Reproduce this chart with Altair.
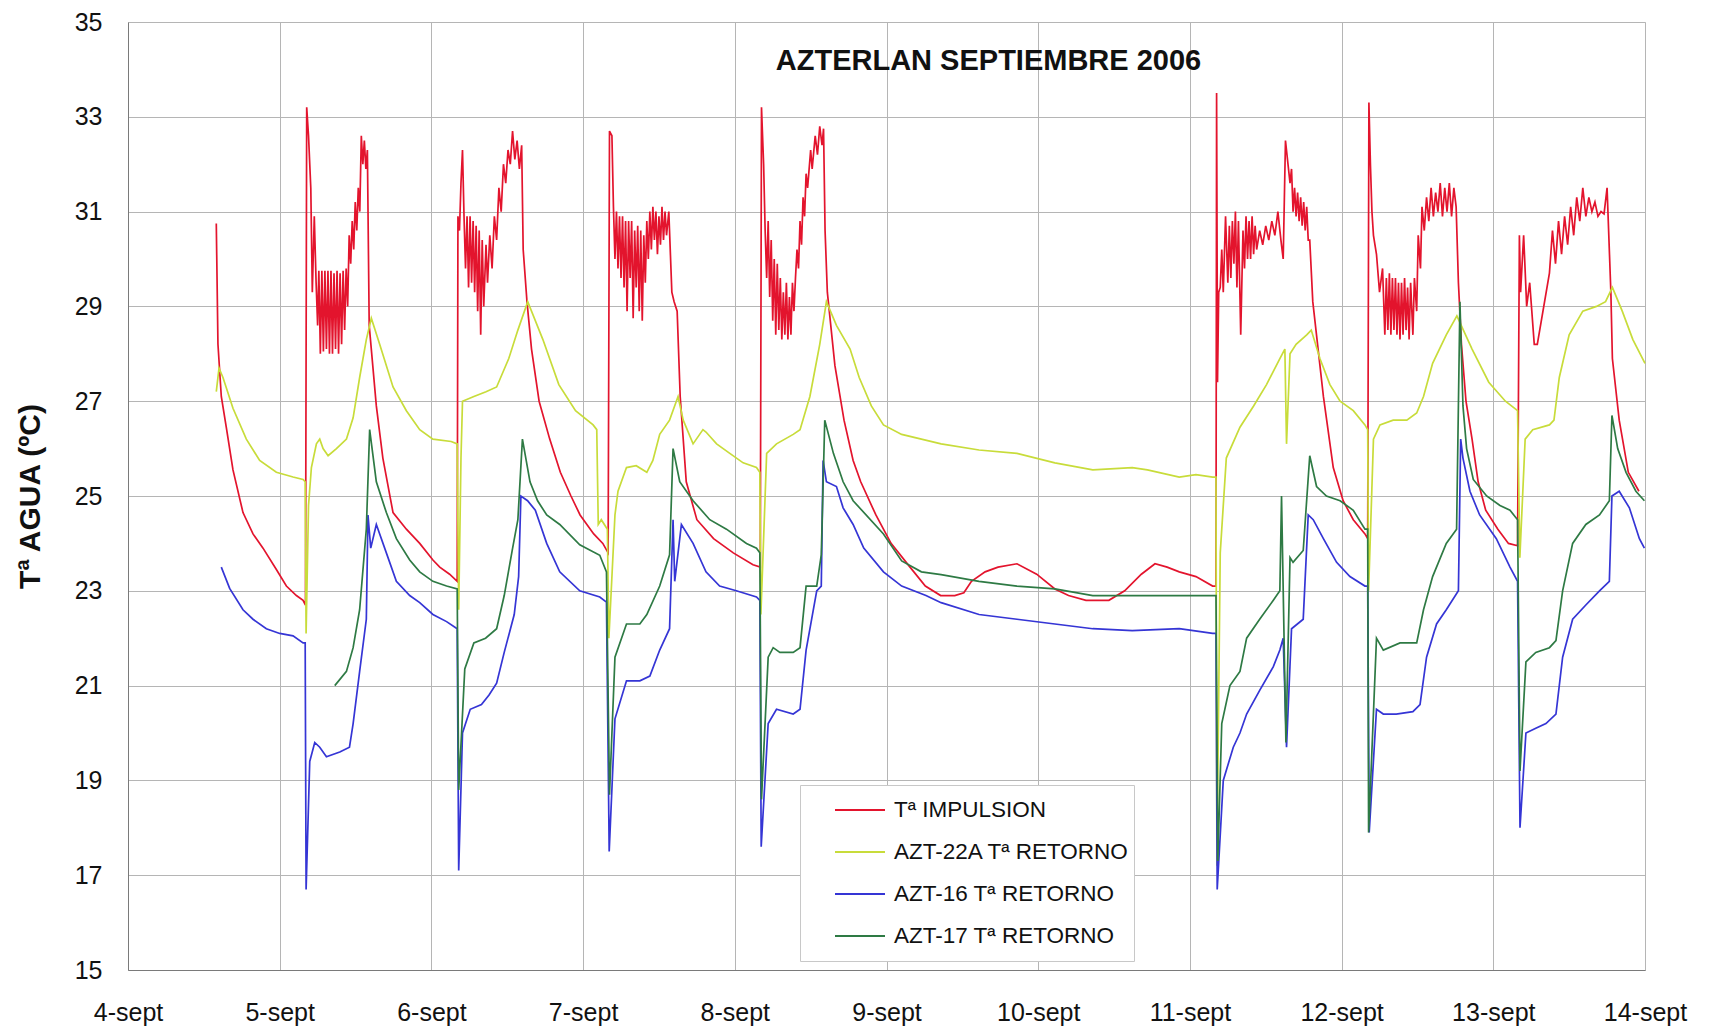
import altair as alt
import pandas as pd

SERIES = ["Tª IMPULSION", "AZT-22A Tª RETORNO", "AZT-16 Tª RETORNO", "AZT-17 Tª RETORNO"]
COLORS = ["#e3142d", "#c8dc3a", "#3535d5", "#2e7a44"]
X_TICKS = list(range(4, 15))
Y_TICKS = list(range(15, 36, 2))
TITLE = "AZTERLAN SEPTIEMBRE 2006"
Y_TITLE = "Tª AGUA (ºC)"

imp_day = [4.582, 4.593, 4.615, 4.648, 4.692, 4.758, 4.824, 4.890, 4.978, 5.044, 5.110, 5.154, 5.170,
           5.178, 5.190, 5.205, 5.215, 5.228, 5.240, 5.250, 5.258, 5.268, 5.278, 5.288, 5.298, 5.308,
           5.318, 5.328, 5.338, 5.348, 5.358, 5.368, 5.378, 5.388, 5.398, 5.408, 5.418, 5.428, 5.438,
           5.448, 5.458, 5.468, 5.478, 5.488, 5.498, 5.508, 5.518, 5.528, 5.538, 5.548, 5.558, 5.568,
           5.578, 5.590, 5.637, 5.680, 5.747, 5.835, 5.923, 6.010, 6.055, 6.120, 6.170,
           6.175, 6.185, 6.195, 6.205, 6.215, 6.225, 6.235, 6.245, 6.255, 6.265, 6.275, 6.285, 6.295,
           6.305, 6.315, 6.325, 6.335, 6.345, 6.360, 6.370, 6.385, 6.400, 6.415, 6.430, 6.445, 6.460,
           6.475, 6.490, 6.505, 6.520, 6.535, 6.550, 6.565, 6.580, 6.595, 6.605, 6.630, 6.660, 6.710,
           6.780, 6.850, 6.920, 6.980, 7.070, 7.130, 7.165,
           7.174, 7.190, 7.200, 7.210, 7.220, 7.230, 7.240, 7.250, 7.260, 7.270, 7.280, 7.290, 7.300,
           7.310, 7.320, 7.330, 7.340, 7.350, 7.360, 7.370, 7.380, 7.390, 7.400, 7.410, 7.420, 7.430,
           7.440, 7.450, 7.460, 7.470, 7.480, 7.490, 7.500, 7.510, 7.520, 7.530, 7.540, 7.550, 7.565,
           7.585, 7.600, 7.620, 7.640, 7.680, 7.750, 7.860, 7.990, 8.120, 8.168,
           8.176, 8.190, 8.200, 8.210, 8.220, 8.230, 8.240, 8.250, 8.260, 8.270, 8.280, 8.290, 8.300,
           8.310, 8.320, 8.330, 8.340, 8.350, 8.360, 8.370, 8.380, 8.390, 8.400, 8.410, 8.420, 8.430,
           8.440, 8.450, 8.460, 8.470, 8.480, 8.500, 8.510, 8.530, 8.545, 8.560, 8.575, 8.585, 8.595,
           8.610, 8.660, 8.720, 8.780, 8.830, 8.930, 9.030, 9.155, 9.256, 9.357, 9.450, 9.510, 9.560,
           9.650, 9.735, 9.860, 9.990, 10.110, 10.200, 10.315, 10.466, 10.570, 10.680, 10.770, 10.850,
           10.930, 11.040, 11.150, 11.172,
           11.176, 11.182, 11.190, 11.200, 11.210, 11.220, 11.235, 11.250, 11.260, 11.270, 11.280,
           11.290, 11.300, 11.310, 11.320, 11.335, 11.350, 11.360, 11.370, 11.380, 11.390, 11.400,
           11.410, 11.420, 11.430, 11.440, 11.460, 11.480, 11.500, 11.520, 11.540, 11.560, 11.580,
           11.600, 11.615, 11.630, 11.640, 11.660, 11.670, 11.680, 11.690, 11.700, 11.710, 11.720,
           11.730, 11.740, 11.750, 11.760, 11.770, 11.780, 11.790, 11.810, 11.880, 11.945, 12.010,
           12.077, 12.154, 12.172,
           12.180, 12.190, 12.200, 12.210, 12.230, 12.250, 12.270, 12.285, 12.295, 12.305, 12.315,
           12.325, 12.335, 12.345, 12.355, 12.365, 12.375, 12.385, 12.395, 12.405, 12.415, 12.425,
           12.435, 12.445, 12.455, 12.470, 12.480, 12.495, 12.505, 12.520, 12.530, 12.545, 12.560,
           12.575, 12.590, 12.605, 12.620, 12.635, 12.650, 12.665, 12.680, 12.695, 12.710, 12.725,
           12.740, 12.755, 12.770, 12.790, 12.820, 12.860, 12.900, 12.950, 13.030, 13.100, 13.160,
           13.172, 13.180, 13.200, 13.220, 13.240, 13.270, 13.290, 13.370, 13.390, 13.410, 13.430,
           13.450, 13.470, 13.490, 13.510, 13.530, 13.550, 13.570, 13.590, 13.610, 13.630, 13.650,
           13.670, 13.690, 13.710, 13.730, 13.750, 13.775, 13.785, 13.830, 13.890, 13.960, 13.995]
imp_val = [30.75, 28.2, 27.1, 26.45, 25.55, 24.65, 24.2, 23.9, 23.45, 23.1, 22.9, 22.8, 22.7,
           33.2, 32.6, 31.5, 29.3, 30.9, 29.5, 28.6, 29.75, 28.0, 29.75, 28.05, 29.75, 28.1,
           29.75, 28.0, 29.75, 28.0, 29.7, 28.1, 29.75, 28.0, 29.7, 28.2, 29.75, 28.5, 29.8,
           29.0, 30.5, 29.9, 30.8, 30.2, 31.2, 30.6, 31.5, 31.0, 32.6, 32.0, 32.5, 31.9,
           32.3, 28.6, 26.9, 25.8, 24.65, 24.3, 24.0, 23.65, 23.5, 23.35, 23.2,
           30.9, 30.6, 31.6, 32.3, 30.9, 29.8, 30.9, 29.4, 30.9, 29.5, 30.8, 29.3, 30.7,
           28.9, 30.6, 28.4, 30.4, 29.0, 30.3, 29.5, 30.5, 29.8, 30.9, 30.4, 31.5, 31.0,
           32.0, 31.6, 32.3, 32.0, 32.7, 32.1, 32.5, 31.9, 32.4, 30.2, 29.1, 28.1, 27.0,
           26.2, 25.5, 25.0, 24.6, 24.2, 24.0, 23.8,
           32.7, 32.6, 31.1, 30.0, 31.0, 29.8, 30.9, 29.6, 30.9, 29.4, 30.8, 28.9, 30.8,
           29.6, 30.8, 28.75, 30.6, 29.4, 30.7, 28.9, 30.6, 28.7, 30.5, 29.5, 30.8, 30.0,
           31.0, 30.2, 31.1, 30.4, 31.0, 30.1, 30.9, 30.3, 31.1, 30.4, 31.0, 30.5, 31.0,
           29.3, 29.1, 28.9, 27.1, 25.3, 24.5, 24.1, 23.8, 23.55, 23.5,
           33.2, 32.0, 30.6, 29.6, 30.8, 29.2, 30.4, 28.7, 30.0, 28.4, 29.9, 28.5, 29.6,
           28.3, 29.3, 28.4, 29.5, 28.3, 29.2, 28.4, 29.5, 28.9, 29.6, 30.2, 29.8, 30.8,
           30.3, 31.3, 30.9, 31.8, 31.5, 32.3, 31.9, 32.6, 32.2, 32.8, 32.4, 32.75, 30.6,
           29.3, 27.75, 26.6, 25.75, 25.3, 24.6, 24.0, 23.5, 23.1, 22.9, 22.9, 22.96, 23.2,
           23.4, 23.5, 23.57, 23.35, 23.04, 22.9, 22.8, 22.8, 23.0, 23.35, 23.57, 23.5,
           23.4, 23.3, 23.1, 23.1,
           33.5, 27.4, 29.3, 29.4, 30.2, 29.3, 30.9, 29.5, 30.7, 29.6, 30.8,
           29.9, 31.0, 29.4, 30.8, 28.4, 30.6, 29.8, 30.9, 30.0, 30.8, 30.0,
           30.9, 30.1, 30.7, 30.2, 30.6, 30.3, 30.7, 30.4, 30.8, 30.5, 31.0,
           30.4, 30.0, 32.5, 32.2, 31.6, 31.9, 31.0, 31.5, 30.9, 31.4, 30.8,
           31.3, 30.7, 31.2, 30.6, 31.1, 30.4, 30.4, 29.1, 27.1, 25.6, 24.9,
           24.5, 24.2, 24.1,
           33.3, 32.0, 31.0, 30.5, 30.1, 29.3, 29.8, 28.4, 29.6, 28.5, 29.7,
           28.4, 29.6, 28.5, 29.6, 28.4, 29.5, 28.3, 29.5, 28.4, 29.6, 28.5,
           29.4, 28.3, 29.5, 28.4, 29.6, 28.9, 30.5, 29.8, 31.1, 30.6, 31.3,
           30.8, 31.5, 30.9, 31.4, 31.0, 31.6, 30.9, 31.5, 31.0, 31.6, 30.9,
           31.5, 31.1, 29.5, 28.2, 27.0, 26.2, 25.3, 24.7, 24.3, 24.0,
           23.95, 30.5, 29.3, 30.5, 29.0, 29.5, 28.2, 28.2, 29.7, 30.6, 29.9,
           30.8, 30.1, 30.9, 30.3, 31.1, 30.5, 31.3, 30.8, 31.5, 30.9, 31.3,
           31.0, 31.2, 30.9, 31.0, 30.95, 31.5, 29.3, 27.9, 26.6, 25.5, 25.1]

r22_day = [4.582, 4.600, 4.626, 4.692, 4.780, 4.868, 4.978, 5.088, 5.154, 5.168, 5.174, 5.190, 5.209,
           5.242, 5.264, 5.286, 5.319, 5.374, 5.440, 5.484, 5.527, 5.571, 5.604, 5.659, 5.747, 5.835,
           5.923, 6.010, 6.130, 6.170, 6.180, 6.195, 6.205, 6.280, 6.360, 6.430, 6.510, 6.570, 6.635,
           6.735, 6.840, 6.950, 7.066, 7.090, 7.100, 7.120, 7.160, 7.170, 7.210, 7.230, 7.286, 7.350,
           7.420, 7.460, 7.505, 7.570, 7.626, 7.660, 7.725, 7.790, 7.810, 7.880, 7.967, 8.055, 8.143,
           8.165, 8.172, 8.210, 8.275, 8.385, 8.430, 8.495, 8.560, 8.604, 8.670, 8.760, 8.820, 8.900,
           8.980, 9.100, 9.230, 9.360, 9.610, 9.860, 10.110, 10.360, 10.620, 10.720, 10.930, 11.040,
           11.150, 11.172, 11.178, 11.200, 11.240, 11.330, 11.420, 11.505, 11.593, 11.626, 11.637,
           11.660, 11.700, 11.770, 11.800, 11.857, 11.923, 11.990, 12.077, 12.154, 12.172, 12.178,
           12.210, 12.253, 12.340, 12.430, 12.495, 12.540, 12.600, 12.690, 12.760, 12.860, 12.970,
           13.080, 13.160, 13.175, 13.210, 13.260, 13.370, 13.400, 13.435, 13.500, 13.590, 13.680,
           13.740, 13.785, 13.850, 13.920, 14.000]
r22_val = [27.2, 27.7, 27.5, 26.85, 26.2, 25.75, 25.5, 25.4, 25.35, 25.3, 22.1, 24.8, 25.6,
           26.1, 26.2, 26.0, 25.85, 26.0, 26.2, 26.65, 27.5, 28.3, 28.75, 28.2, 27.3, 26.8,
           26.4, 26.2, 26.15, 26.1, 22.6, 25.8, 27.0, 27.1, 27.2, 27.3, 27.9, 28.5, 29.1,
           28.3, 27.35, 26.8, 26.5, 26.4, 24.4, 24.5, 24.3, 22.0, 24.6, 25.1, 25.6, 25.64,
           25.5, 25.75, 26.3, 26.6, 27.1, 26.6, 26.1, 26.4, 26.35, 26.1, 25.9, 25.7, 25.6,
           25.5, 22.5, 25.9, 26.1, 26.3, 26.4, 27.1, 28.2, 29.1, 28.6, 28.1, 27.5, 26.9,
           26.5, 26.3, 26.2, 26.1, 25.97, 25.9, 25.7, 25.55, 25.6, 25.55, 25.4, 25.45,
           25.4, 25.4, 17.2, 23.8, 25.8, 26.45, 26.9, 27.35, 27.9, 28.1, 26.1,
           28.0, 28.2, 28.4, 28.5, 27.9, 27.35, 27.0, 26.8, 26.5, 26.4, 23.0,
           26.2, 26.5, 26.6, 26.6, 26.75, 27.1, 27.8, 28.4, 28.8, 28.1, 27.4,
           27.0, 26.8, 23.7, 26.2, 26.4, 26.5, 26.6, 27.5, 28.4, 28.9, 29.0,
           29.1, 29.4, 28.9, 28.3, 27.8]

r16_day = [4.615, 4.670, 4.758, 4.824, 4.912, 5.000, 5.088, 5.154, 5.168, 5.174, 5.198, 5.231, 5.264,
           5.308, 5.396, 5.460, 5.484, 5.527, 5.571, 5.582, 5.600, 5.637, 5.703, 5.769, 5.857, 5.923,
           6.010, 6.100, 6.170, 6.180, 6.205, 6.256, 6.330, 6.380, 6.430, 6.480, 6.546, 6.575, 6.590,
           6.634, 6.685, 6.760, 6.846, 6.978, 7.110, 7.154, 7.172, 7.210, 7.286, 7.374, 7.440, 7.505,
           7.570, 7.593, 7.604, 7.648, 7.725, 7.810, 7.900, 8.010, 8.143, 8.165, 8.174, 8.220, 8.275,
           8.385, 8.430, 8.470, 8.540, 8.570, 8.582, 8.604, 8.670, 8.714, 8.780, 8.850, 8.980, 9.100,
           9.260, 9.360, 9.610, 9.860, 10.110, 10.360, 10.620, 10.930, 11.150, 11.172, 11.180, 11.220,
           11.286, 11.330, 11.374, 11.460, 11.550, 11.593, 11.615, 11.637, 11.670, 11.747, 11.780,
           11.813, 11.880, 11.967, 12.055, 12.154, 12.172, 12.182, 12.230, 12.275, 12.360, 12.470,
           12.517, 12.560, 12.626, 12.690, 12.770, 12.785, 12.800, 12.846, 12.910, 13.020, 13.110,
           13.160, 13.176, 13.215, 13.280, 13.347, 13.413, 13.457, 13.523, 13.610, 13.700, 13.765,
           13.782, 13.830, 13.897, 13.963, 13.996]
r16_val = [23.5, 23.05, 22.6, 22.4, 22.2, 22.1, 22.05, 21.9, 21.9, 16.7, 19.4, 19.8, 19.7,
           19.5, 19.6, 19.7, 20.2, 21.3, 22.4, 24.6, 23.9, 24.4, 23.8, 23.2, 22.9, 22.75,
           22.5, 22.35, 22.2, 17.1, 20.0, 20.5, 20.6, 20.8, 21.05, 21.7, 22.5, 23.3, 25.0,
           24.9, 24.7, 24.0, 23.4, 23.0, 22.87, 22.76, 17.5, 20.3, 21.1, 21.1, 21.2, 21.75,
           22.2, 24.5, 23.2, 24.4, 24.0, 23.4, 23.1, 23.0, 22.87, 22.8, 17.6, 20.2, 20.5,
           20.4, 20.5, 21.75, 23.0, 23.1, 25.75, 25.3, 25.2, 24.75, 24.4, 23.9, 23.4, 23.1,
           22.9, 22.75, 22.5, 22.4, 22.3, 22.2, 22.16, 22.2, 22.1, 22.1, 16.7, 19.0,
           19.7, 20.0, 20.4, 20.9, 21.4, 21.75, 22.0, 19.7, 22.2, 22.4, 24.6,
           24.5, 24.1, 23.6, 23.3, 23.1, 23.1, 17.9, 20.5, 20.4, 20.4, 20.45,
           20.6, 21.6, 22.3, 22.6, 23.0, 26.2, 25.8, 25.1, 24.6, 24.1, 23.5,
           23.2, 18.0, 20.0, 20.1, 20.2, 20.4, 21.6, 22.4, 22.7, 23.0, 23.2,
           25.0, 25.1, 24.75, 24.1, 23.9]

r17_day = [5.363, 5.440, 5.484, 5.527, 5.571, 5.593, 5.637, 5.703, 5.769, 5.857, 5.923, 6.010, 6.100,
           6.170, 6.180, 6.220, 6.280, 6.357, 6.430, 6.480, 6.533, 6.570, 6.600, 6.650, 6.700, 6.760,
           6.846, 6.978, 7.110, 7.154, 7.174, 7.210, 7.286, 7.374, 7.420, 7.505, 7.570, 7.593, 7.637,
           7.725, 7.835, 7.945, 8.077, 8.143, 8.165, 8.176, 8.220, 8.253, 8.297, 8.385, 8.430, 8.470,
           8.540, 8.570, 8.593, 8.650, 8.714, 8.780, 8.980, 9.100, 9.230, 9.360, 9.610, 9.860, 10.110,
           10.360, 10.620, 10.930, 11.150, 11.172, 11.184, 11.210, 11.264, 11.330, 11.374, 11.460,
           11.550, 11.593, 11.604, 11.633, 11.660, 11.680, 11.747, 11.790, 11.835, 11.900, 11.990,
           12.077, 12.154, 12.172, 12.178, 12.230, 12.275, 12.385, 12.495, 12.540, 12.600, 12.690,
           12.758, 12.780, 12.800, 12.824, 12.868, 12.956, 13.044, 13.110, 13.160, 13.176, 13.215,
           13.280, 13.370, 13.413, 13.457, 13.523, 13.610, 13.700, 13.765, 13.782, 13.820, 13.875,
           13.940, 13.996]
r17_val = [21.0, 21.3, 21.8, 22.6, 24.3, 26.4, 25.3, 24.65, 24.1, 23.65, 23.4, 23.2, 23.1,
           23.04, 18.8, 21.35, 21.9, 22.0, 22.2, 22.9, 23.86, 24.5, 26.2, 25.3, 24.9, 24.6,
           24.4, 23.97, 23.75, 23.4, 18.7, 21.6, 22.3, 22.3, 22.5, 23.1, 23.76, 26.0, 25.3,
           24.9, 24.5, 24.3, 24.0, 23.9, 23.8, 18.6, 21.6, 21.8, 21.7, 21.7, 21.8, 23.1,
           23.1, 23.76, 26.6, 25.9, 25.3, 24.9, 24.2, 23.63, 23.4, 23.34, 23.2, 23.1, 23.04,
           22.9, 22.9, 22.9, 22.9, 22.9, 17.3, 20.2, 21.0, 21.3, 22.0, 22.4,
           22.8, 23.0, 25.0, 19.8, 23.7, 23.6, 23.85, 25.85, 25.2, 25.0, 24.9,
           24.7, 24.3, 24.3, 17.9, 22.0, 21.75, 21.9, 21.9, 22.6, 23.3, 24.0,
           24.3, 29.1, 26.9, 26.0, 25.35, 25.0, 24.8, 24.7, 24.5, 19.2, 21.5,
           21.7, 21.8, 21.95, 23.0, 24.0, 24.4, 24.6, 24.9, 26.7, 26.0, 25.5,
           25.1, 24.9]

rows = []
for name, days, vals in zip(SERIES, [imp_day, r22_day, r16_day, r17_day],
                            [imp_val, r22_val, r16_val, r17_val]):
    for d, v in zip(days, vals):
        rows.append({"serie": name, "dia": d, "temp": v})
df = pd.DataFrame(rows)

FONT = "Liberation Sans"

chart = alt.Chart(df).mark_line(strokeWidth=1.7).encode(
    x=alt.X("dia:Q",
            scale=alt.Scale(domain=[4, 14], nice=False, zero=False),
            axis=alt.Axis(values=X_TICKS, labelExpr="datum.value + '-sept'", title=None,
                          labelFont=FONT, labelFontSize=25, labelColor="#111111",
                          labelPadding=30, ticks=False, domainColor="#7a7a7a",
                          gridColor="#b5b5b5", gridWidth=1, labelFlush=False)),
    y=alt.Y("temp:Q",
            scale=alt.Scale(domain=[15, 35], nice=False, zero=False),
            axis=alt.Axis(values=Y_TICKS, title=Y_TITLE, titleFont=FONT, titleFontSize=30,
                          titleFontWeight="bold", titleColor="#111111", titleX=-98,
                          titleBaseline="middle", titleAngle=270,
                          labelFont=FONT, labelFontSize=25, labelColor="#111111",
                          labelPadding=26, ticks=False, domainColor="#7a7a7a",
                          gridColor="#b5b5b5", gridWidth=1, labelFlush=False)),
    color=alt.Color("serie:N",
                    scale=alt.Scale(domain=SERIES, range=COLORS),
                    legend=alt.Legend(title=None, orient="none", legendX=672, legendY=763,
                                      direction="vertical", fillColor="white",
                                      strokeColor="#c8c8c8", padding=4,
                                      labelFont=FONT, labelFontSize=22.5, labelColor="#111111",
                                      labelExpr="datum.label + '\u00a0\u00a0\u00a0\u00a0\u00a0'",
                                      symbolType="stroke", symbolSize=2500,
                                      symbolStrokeWidth=2, symbolOffset=30, labelOffset=8,
                                      clipHeight=42, rowPadding=0, labelLimit=600)),
).properties(
    width=1517,
    height=948,
    title=alt.TitleParams(TITLE, font=FONT, fontSize=29, fontWeight="bold", color="#111111",
                          anchor="middle", frame="group", orient="top", offset=0,
                          baseline="alphabetic", dx=102, dy=89),
    autosize=alt.AutoSizeParams(type="none"),
    padding={"left": 128, "top": 22, "right": 66, "bottom": 59},
).configure_view(stroke="#8a8a8a", strokeWidth=1).configure(background="white")

chart.save("out.html", embed_options={"renderer": "svg", "actions": False})
